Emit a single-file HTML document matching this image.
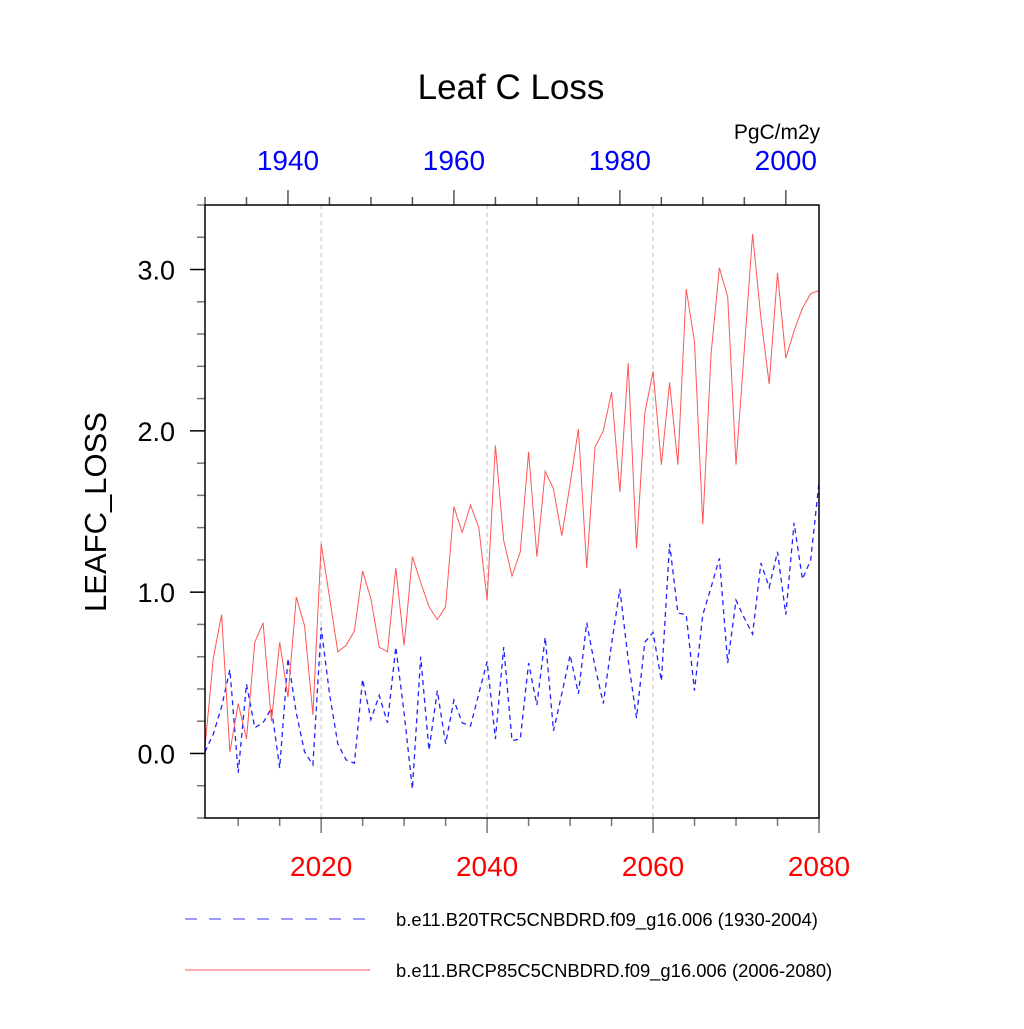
<!DOCTYPE html>
<html><head><meta charset="utf-8"><style>
html,body{margin:0;padding:0;background:#fff;}
svg text{font-family:"Liberation Sans",sans-serif;}
</style></head><body>
<svg id="chart" width="1024" height="1024" viewBox="0 0 1024 1024" xmlns="http://www.w3.org/2000/svg">
<rect width="1024" height="1024" fill="#fff"/>
<text x="511" y="99" font-size="35" text-anchor="middle">Leaf C Loss</text>
<text x="777" y="139" font-size="21" text-anchor="middle">PgC/m2y</text>
<text transform="translate(106,512) rotate(-90)" font-size="31" text-anchor="middle">LEAFC_LOSS</text>
<g id="grid"></g>
<g id="axes"></g>
<g id="series"></g>
<rect x="205" y="205" width="614" height="613" fill="none" stroke="#000" stroke-width="1.5"/>
<g>
<line x1="185" y1="919" x2="370" y2="919" stroke="#3333ff" stroke-width="1" stroke-dasharray="12,12"/>
<text x="396" y="926" font-size="18.4">b.e11.B20TRC5CNBDRD.f09_g16.006 (1930-2004)</text>
<line x1="185" y1="970" x2="370" y2="970" stroke="#ff5555" stroke-width="1"/>
<text x="396" y="977" font-size="18.4">b.e11.BRCP85C5CNBDRD.f09_g16.006 (2006-2080)</text>
</g>
</svg>
<script>
const redValues=[0.04,0.59,0.86,0.01,0.31,0.09,0.69,0.81,0.20,0.69,0.35,0.97,0.79,0.24,1.30,0.97,0.63,0.67,0.76,1.13,0.96,0.66,0.63,1.15,0.67,1.22,1.06,0.91,0.83,0.91,1.53,1.37,1.54,1.40,0.95,1.91,1.32,1.10,1.25,1.87,1.22,1.75,1.64,1.35,1.67,2.01,1.15,1.90,2.00,2.24,1.62,2.42,1.27,2.11,2.37,1.79,2.30,1.79,2.88,2.55,1.42,2.48,3.01,2.83,1.79,2.50,3.22,2.70,2.29,2.98,2.45,2.62,2.76,2.85,2.87];
const blueValues=[0.01,0.12,0.29,0.52,-0.12,0.43,0.16,0.19,0.28,-0.09,0.59,0.25,0.01,-0.07,0.78,0.37,0.06,-0.04,-0.06,0.46,0.21,0.36,0.19,0.66,0.25,-0.22,0.60,0.02,0.39,0.06,0.33,0.19,0.17,0.37,0.57,0.09,0.66,0.08,0.09,0.56,0.30,0.72,0.14,0.37,0.61,0.37,0.81,0.54,0.31,0.68,1.02,0.58,0.22,0.69,0.75,0.45,1.30,0.87,0.86,0.39,0.86,1.03,1.21,0.56,0.95,0.84,0.74,1.18,1.03,1.25,0.86,1.43,1.08,1.20,1.68];
const bottomTicks=[2020,2040,2060,2080];
const topTicks=[1940,1960,1980,2000];
const yTicks=[0,1,2,3];
const yTickLabels=["0.0","1.0","2.0","3.0"];
const redStart=2006, blueStart=1930;
const X0=205,X1=819,Y0=818,Y1=205;
const xB=yr=>X0+(yr-2006)/(2080-2006)*(X1-X0);
const xT=yr=>X0+(yr-1930)/(2004-1930)*(X1-X0);
const yS=v=>Y0-(v+0.4)/(3.4+0.4)*(Y0-Y1);
const NS='http://www.w3.org/2000/svg';
function mk(tag,attrs,parent){const e=document.createElementNS(NS,tag);for(const k in attrs)e.setAttribute(k,attrs[k]);parent.appendChild(e);return e;}
const axes=document.getElementById('axes'),grid=document.getElementById('grid'),series=document.getElementById('series');
[2020,2040,2060].forEach(yr=>{const l=mk('line',{x1:xB(yr),x2:xB(yr),y1:Y1,y2:Y0,stroke:'#bbb','stroke-width':1,'stroke-dasharray':'4,4'},grid);

});
for(let yr=2010;yr<=2080;yr+=5){const maj=yr%20===0;const l=mk('line',{x1:xB(yr),x2:xB(yr),y1:Y0,y2:Y0+(maj?15:8),stroke:'#777','stroke-width':1.5},axes);

}
bottomTicks.forEach(yr=>{const t=mk('text',{x:xB(yr),y:876,'font-size':28,fill:'#ff0000','text-anchor':'middle'},axes);t.textContent=yr;

});
for(let yr=1930;yr<=2004;yr+=5){const maj=yr%20===0;const l=mk('line',{x1:xT(yr),x2:xT(yr),y1:Y1,y2:Y1-(maj?15:8),stroke:'#555','stroke-width':1.5},axes);

}
topTicks.forEach(yr=>{const t=mk('text',{x:xT(yr),y:170,'font-size':28,fill:'#0000ff','text-anchor':'middle'},axes);t.textContent=yr;

});
for(let i=-2;i<=17;i++){const v=i*0.2;const maj=i%5===0;const l=mk('line',{x1:X0,x2:X0-(maj?15:8),y1:yS(v),y2:yS(v),stroke:maj?'#000':'#777','stroke-width':1.5},axes);

}
yTicks.forEach((v,i)=>{const t=mk('text',{x:175,y:yS(v)+10,'font-size':27,'text-anchor':'end'},axes);t.textContent=yTickLabels[i];

});
const bp=blueValues.map((v,i)=>xT(blueStart+i).toFixed(1)+','+yS(v).toFixed(1)).join(' ');
const b=mk('polyline',{points:bp,fill:'none',stroke:'#2222ff','stroke-width':1.3,'stroke-dasharray':'5,4'},series);


const rp=redValues.map((v,i)=>xB(redStart+i).toFixed(1)+','+yS(v).toFixed(1)).join(' ');
const r=mk('polyline',{points:rp,fill:'none',stroke:'#ff5555','stroke-width':1},series);


</script>
</body></html>
